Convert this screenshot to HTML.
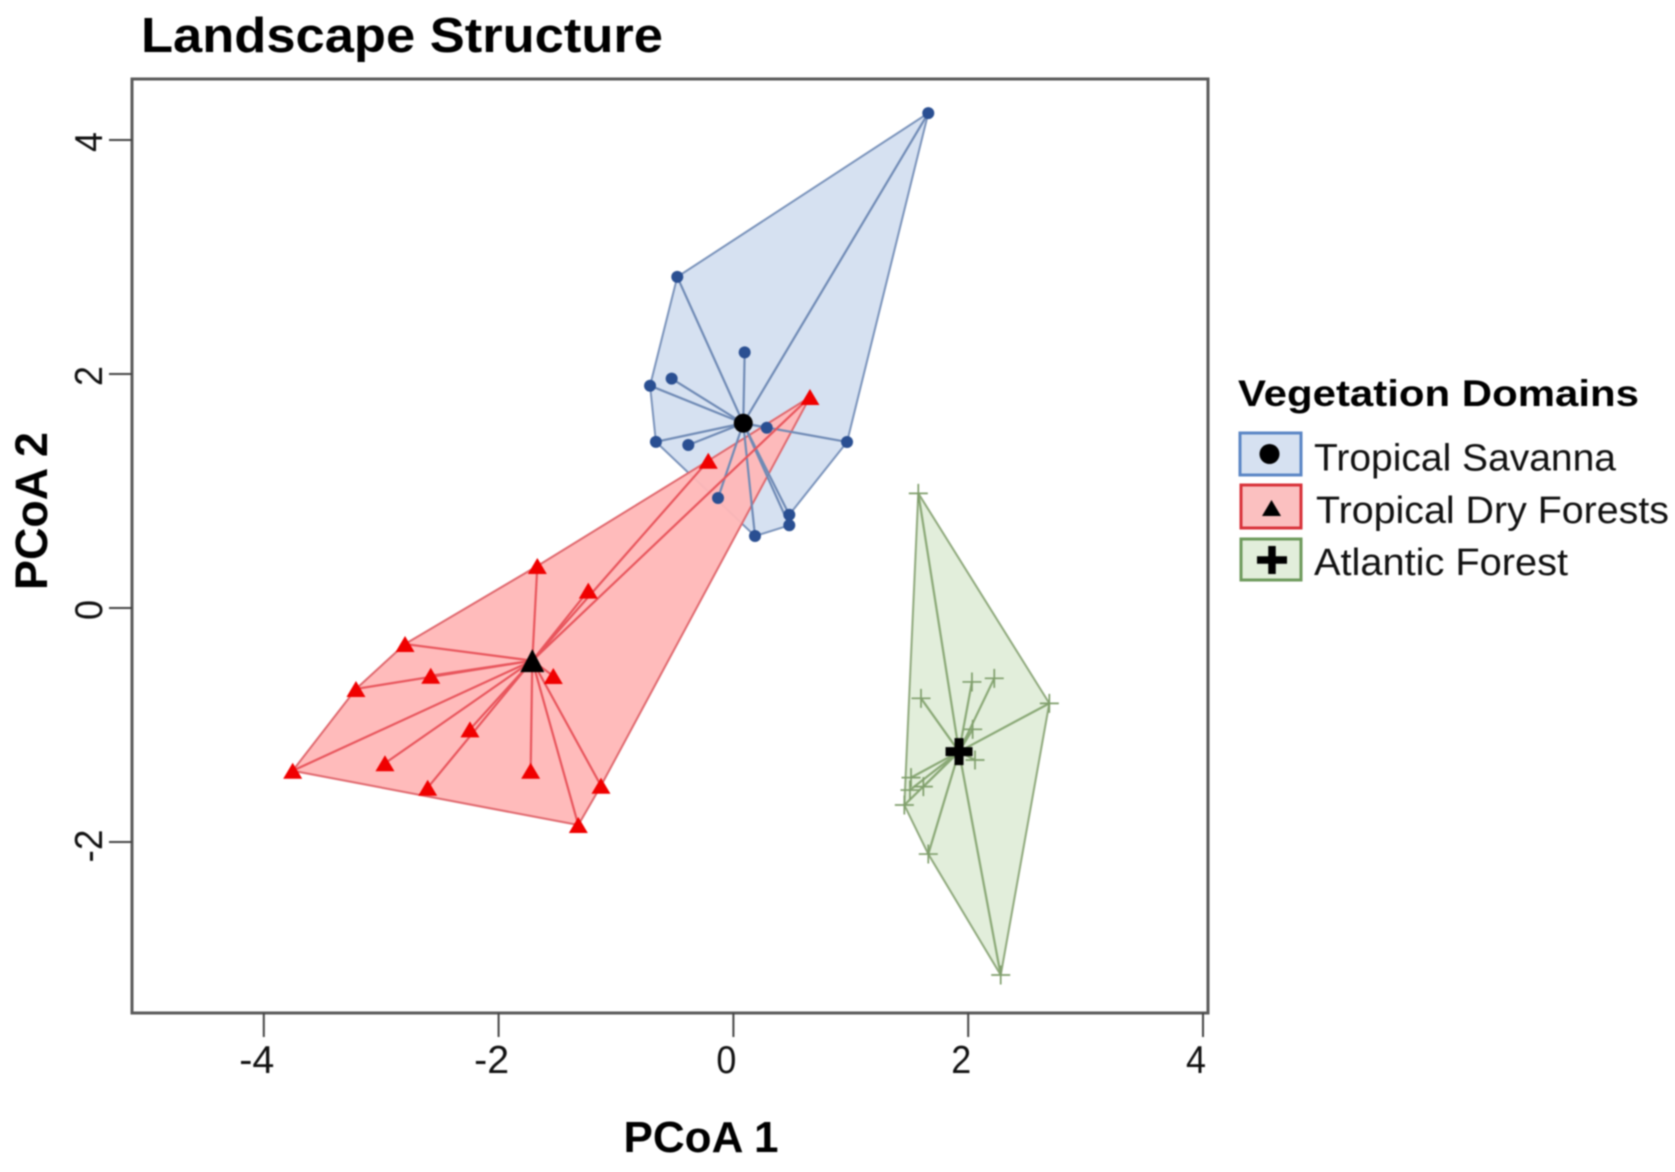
<!DOCTYPE html>
<html lang="en">
<head>
<meta charset="utf-8">
<title>Landscape Structure</title>
<style>
html,body{margin:0;padding:0;background:#fff;}
body{width:1675px;height:1172px;overflow:hidden;}
svg{display:block;filter:blur(0.9px);font-family:"Liberation Sans",Arial,sans-serif;}
</style>
</head>
<body>
<svg id="chart" xmlns="http://www.w3.org/2000/svg" width="1675" height="1172" viewBox="0 0 1675 1172">
  <rect x="0" y="0" width="1675" height="1172" fill="#ffffff"/>
  <text x="141" y="52" font-size="49" font-weight="bold" fill="#000" textLength="522" lengthAdjust="spacingAndGlyphs">Landscape Structure</text>
  <g id="marks"></g>
  <rect x="132" y="79" width="1076" height="934" fill="none" stroke="#5a5a5a" stroke-width="3"/>
  <g id="axes"></g>
  <text x="701" y="1152" text-anchor="middle" font-size="44" font-weight="bold" fill="#000" textLength="155" lengthAdjust="spacingAndGlyphs">PCoA 1</text>
  <text transform="translate(47,511) rotate(-90)" text-anchor="middle" font-size="45" font-weight="bold" fill="#000" textLength="158" lengthAdjust="spacingAndGlyphs">PCoA 2</text>

  <g>
    <text x="1238" y="406" font-size="37" font-weight="bold" fill="#000" textLength="401" lengthAdjust="spacingAndGlyphs">Vegetation Domains</text>
    <g>
      <rect x="1240" y="433" width="61" height="42" fill="#d6e1f1" stroke="#5b86c5" stroke-width="3"/>
      <circle cx="1269.5" cy="454" r="10" fill="#000"/>
      <text x="1314" y="470.5" font-size="38" fill="#111" textLength="302" lengthAdjust="spacingAndGlyphs">Tropical Savanna</text>
    </g>
    <g>
      <rect x="1241" y="485" width="60" height="43" fill="#fbc0c0" stroke="#d8323a" stroke-width="3"/>
      <polygon points="1271.5,500 1281,516 1262,516" fill="#000"/>
      <text x="1316" y="523" font-size="38" fill="#111" textLength="353" lengthAdjust="spacingAndGlyphs">Tropical Dry Forests</text>
    </g>
    <g>
      <rect x="1241" y="539" width="60" height="41" fill="#e2eedb" stroke="#6e9a5c" stroke-width="3"/>
      <path d="M1257 560H1287M1272 546V574" fill="none" stroke="#000" stroke-width="7.5"/>
      <text x="1314" y="575" font-size="38" fill="#111" textLength="254" lengthAdjust="spacingAndGlyphs">Atlantic Forest</text>
    </g>
  </g>
</svg>
<script>
// Tick values
const xTickValues = [-4, -2, 0, 2, 4];
const yTickValues = [-2, 0, 2, 4];

// Tropical Savanna scores
const savannaX = [1.66, -0.478, 0.096, -0.526, -0.71, -0.66, -0.384, 0.284, 0.968, -0.131, 0.476, 0.476, 0.184];
const savannaY = [4.23, 2.83, 2.185, 1.96, 1.90, 1.42, 1.393, 1.541, 1.419, 0.94, 0.797, 0.707, 0.615];
const savannaCentroid = [0.084, 1.579];
const savannaHull = [0, 1, 4, 5, 12, 11, 10, 8];

// Tropical Dry Forests scores
const dryX = [0.652, -0.214, -1.670, -1.236, -2.797, -3.215, -2.578, -1.534, -2.244, -2.968, -3.754, -2.604, -1.727, -1.128, -1.321];
const dryY = [1.803, 1.259, 0.359, 0.148, -0.308, -0.692, -0.579, -0.581, -1.037, -1.327, -1.391, -1.536, -1.391, -1.519, -1.855];
const dryCentroid = [-1.713, -0.450];
const dryHull = [0, 1, 2, 4, 5, 10, 14, 13];

// Atlantic Forest scores
const atlanticX = [1.575, 2.691, 2.032, 2.222, 1.598, 2.038, 2.058, 1.513, 1.618, 1.504, 1.456, 1.660, 2.277];
const atlanticY = [0.980, -0.815, -0.632, -0.601, -0.772, -1.037, -1.299, -1.450, -1.527, -1.556, -1.684, -2.103, -3.137];
const atlanticCentroid = [1.922, -1.228];
const atlanticHull = [0, 1, 12, 11, 10];

const NS = 'http://www.w3.org/2000/svg';
const scaleX = v => 733.4 + 117.4 * v;
const scaleY = v => 608 - 117 * v;

function make(tag, parent, attrs) {
  const el = document.createElementNS(NS, tag);
  for (const k in attrs) el.setAttribute(k, attrs[k]);
  parent.appendChild(el);
  return el;
}

function hullPoints(xs, ys, hull) {
  return hull.map(i => scaleX(xs[i]) + ',' + scaleY(ys[i])).join(' ');
}

function drawHull(parent, xs, ys, hull, fill, stroke, opacity) {
  const el = make('polygon', parent, {
    points: hullPoints(xs, ys, hull), fill: fill, 'fill-opacity': opacity,
    stroke: stroke, 'stroke-width': 2, 'stroke-linejoin': 'round'
  });
  
  
}

function drawSpokes(parent, xs, ys, centroid, stroke) {
  xs.forEach((x, i) => {
    const el = make('line', parent, {
      x1: scaleX(centroid[0]), y1: scaleY(centroid[1]),
      x2: scaleX(x), y2: scaleY(ys[i]),
      stroke: stroke, 'stroke-width': 2.2
    });
    
    
  });
}

function drawCircle(parent, x, y, r, fill, name) {
  const el = make('circle', parent, { cx: scaleX(x), cy: scaleY(y), r: r, fill: fill });
  
  
}

function drawTriangle(parent, x, y, w, h, fill, name) {
  const px = scaleX(x), py = scaleY(y);
  const el = make('polygon', parent, {
    points: px + ',' + (py - h) + ' ' + (px + w) + ',' + (py + h) + ' ' + (px - w) + ',' + (py + h),
    fill: fill
  });
  
  
}

function drawPlus(parent, x, y, s, sw, stroke, name) {
  const px = scaleX(x), py = scaleY(y);
  const el = make('path', parent, {
    d: 'M' + (px - s) + ' ' + py + 'H' + (px + s) + 'M' + px + ' ' + (py - s) + 'V' + (py + s),
    fill: 'none', stroke: stroke, 'stroke-width': sw
  });
  
  
}

const marks = document.getElementById('marks');

drawHull(marks, savannaX, savannaY, savannaHull, '#d6e1f1', '#7a93bb', 1);
drawHull(marks, dryX, dryY, dryHull, '#ffb7b7', '#e0686e', 0.95);
drawHull(marks, atlanticX, atlanticY, atlanticHull, '#e2eedb', '#8fa97c', 1);

drawSpokes(marks, savannaX, savannaY, savannaCentroid, '#6f8ab5');
drawSpokes(marks, dryX, dryY, dryCentroid, '#e8555c');
drawSpokes(marks, atlanticX, atlanticY, atlanticCentroid, '#8aa876');

savannaX.forEach((x, i) => drawCircle(marks, x, savannaY[i], 6, '#2a4f92', 'savanna-point'));
dryX.forEach((x, i) => drawTriangle(marks, x, dryY[i], 9.5, 8, '#f00000', 'dry-forest-point'));
atlanticX.forEach((x, i) => drawPlus(marks, x, atlanticY[i], 9.5, 1.7, '#7f9e6b', 'atlantic-point'));

drawCircle(marks, savannaCentroid[0], savannaCentroid[1], 9.5, '#000', 'savanna-centroid');
drawTriangle(marks, dryCentroid[0], dryCentroid[1], 12, 11.5, '#000', 'dry-forest-centroid');
drawPlus(marks, atlanticCentroid[0], atlanticCentroid[1], 13.5, 9, '#000', 'atlantic-centroid');

const axes = document.getElementById('axes');
xTickValues.forEach(v => {
  const px = scaleX(v);
  const tick = make('line', axes, { x1: px, y1: 1013, x2: px, y2: 1037, stroke: '#444', 'stroke-width': 2 });
  
  
  const label = make('text', axes, {
    x: px - 7, y: 1073, 'text-anchor': 'middle', 'font-size': 39, fill: '#111',
    textLength: v < 0 ? 35 : 20, lengthAdjust: 'spacingAndGlyphs'
  });
  
  
  label.textContent = String(v);
});
yTickValues.forEach(v => {
  const py = scaleY(v);
  const tick = make('line', axes, { x1: 109, y1: py, x2: 132, y2: py, stroke: '#444', 'stroke-width': 2 });
  
  
  const label = make('text', axes, {
    transform: 'translate(102,' + (py + (v < 0 ? 4 : 2)) + ') rotate(-90)',
    'text-anchor': 'middle', 'font-size': 39, fill: '#111',
    textLength: v < 0 ? 33 : 20, lengthAdjust: 'spacingAndGlyphs'
  });
  
  
  label.textContent = String(v);
});
</script>
</body>
</html>
